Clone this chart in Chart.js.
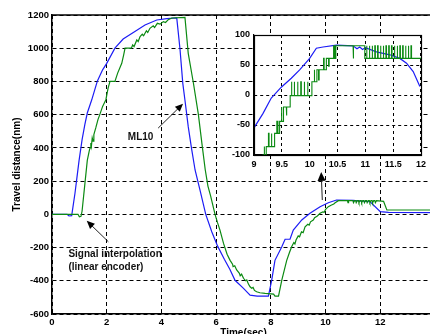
<!DOCTYPE html>
<html><head><meta charset="utf-8">
<script src="https://cdn.jsdelivr.net/npm/chart.js@4.4.1/dist/chart.umd.min.js"></script>
<style>
html,body{margin:0;padding:0;width:430px;height:334px;overflow:hidden;background:#fff;}
#wrap{position:relative;width:445px;height:348px;}
#main{position:absolute;left:0;top:0;width:445px;height:348px;}
#inset{position:absolute;left:215px;top:25px;width:215px;height:150px;}
</style></head><body>
<div id="wrap"><canvas id="main" width="445" height="348"></canvas><canvas id="inset" width="215" height="150"></canvas></div>
<script>
// ---------- data (time in s, travel distance in nm) ----------
const mainXTicks = [0, 2, 4, 6, 8, 10, 12, 14];
const mainYTicks = [-600, -400, -200, 0, 200, 400, 600, 800, 1000, 1200];
const insetXTicks = [9, 9.5, 10, 10.5, 11, 11.5, 12];
const insetYTicks = [-100, -50, 0, 50, 100];

const ml10Main = [[0,0],[0.55,0],[0.62,-10],[0.72,-8],[0.78,60],[0.84,127],[0.9,206],[0.99,325],[1.1,450],[1.2,540],[1.29,610],[1.45,688],[1.66,803],[1.85,870],[2.0,909],[2.3,1000],[2.6,1055],[3.03,1100],[3.4,1140],[3.83,1170],[4.2,1178],[4.56,1182],[4.68,992],[4.78,790],[4.86,687],[4.98,528],[5.1,397],[5.23,267],[5.41,146],[5.62,0],[5.84,-105],[6.05,-190],[6.3,-270],[6.5,-330],[6.69,-397],[7.0,-446],[7.24,-486],[7.5,-492],[7.91,-492],[8.03,-397],[8.15,-277],[8.4,-195],[8.52,-150],[8.7,-150],[8.82,-95],[9.13,-34],[9.43,6],[9.8,46],[10.1,70],[10.4,86],[11.0,84],[11.63,76],[12.0,16],[12.3,12],[14,10]];

const encoderMain = [[0,0],[0.95,0],[1.0,-15],[1.06,-12],[1.1,20],[1.2,180],[1.29,325],[1.36,380],[1.39,400],[1.42,430],[1.44,410],[1.47,460],[1.5,440],[1.53,480],[1.6,520],[1.68,570],[1.75,602],[1.85,650],[1.97,690],[2.05,760],[2.12,800],[2.3,800],[2.4,850],[2.55,909],[2.62,960],[2.67,1000],[2.9,1000],[2.95,1020],[3.0,1010],[3.1,1050],[3.15,1040],[3.22,1070],[3.3,1085],[3.35,1075],[3.45,1105],[3.5,1095],[3.58,1120],[3.7,1135],[3.75,1125],[3.85,1150],[3.95,1145],[4.07,1160],[4.15,1155],[4.25,1172],[4.38,1182],[4.86,1185],[4.98,969],[5.17,789],[5.35,602],[5.5,400],[5.6,270],[5.7,170],[5.8,110],[5.9,40],[5.96,0],[6.05,-50],[6.14,-95],[6.27,-175],[6.4,-240],[6.51,-277],[6.6,-300],[6.62,-315],[6.68,-310],[6.75,-335],[6.85,-355],[6.88,-370],[6.93,-360],[7.0,-385],[7.08,-400],[7.12,-395],[7.18,-420],[7.24,-436],[7.3,-445],[7.35,-440],[7.4,-458],[7.48,-466],[7.6,-472],[7.79,-476],[8.1,-480],[8.15,-492],[8.28,-492],[8.4,-396],[8.58,-277],[8.68,-230],[8.76,-195],[8.84,-170],[8.88,-178],[8.92,-155],[9.0,-130],[9.05,-135],[9.12,-105],[9.18,-110],[9.25,-75],[9.35,-60],[9.4,-65],[9.45,-45],[9.55,-34],[9.6,-20],[9.7,-10],[9.8,6],[9.9,15],[9.95,12],[10.0,30],[10.1,46],[10.2,55],[10.3,62],[10.35,70],[10.47,82],[10.8,82],[10.82,70],[10.84,82],[11.0,82],[11.02,70],[11.06,82],[11.1,82],[11.12,70],[11.16,82],[11.2,82],[11.22,70],[11.26,82],[11.3,82],[11.32,70],[11.36,82],[11.4,82],[11.42,70],[11.46,82],[11.5,82],[11.52,70],[11.56,82],[11.6,82],[11.62,70],[11.66,82],[11.7,82],[11.72,70],[11.76,82],[11.8,82],[11.82,70],[11.86,82],[12.12,78],[12.24,26],[14,26]];

const ml10Inset = [[9,-55],[9.16,-31],[9.31,-5],[9.49,13],[9.67,28],[9.82,42],[10.0,61],[10.12,78],[10.24,80],[10.48,83],[10.78,82],[10.85,77],[10.9,80],[10.95,76],[11.0,79],[11.2,72],[11.44,67],[11.62,61],[11.74,53],[11.86,39],[11.98,14]];

const encoderInset = [[9,-135],[9.16,-135],[9.16,-100],[9.18,-100],[9.18,-86],[9.19,-86],[9.19,-100],[9.22,-100],[9.22,-86],[9.26,-86],[9.26,-64],[9.27,-64],[9.27,-86],[9.31,-86],[9.31,-64],[9.32,-64],[9.32,-86],[9.37,-86],[9.37,-64],[9.41,-64],[9.41,-44],[9.43,-44],[9.43,-64],[9.46,-64],[9.46,-44],[9.49,-44],[9.49,-20],[9.5,-20],[9.5,-44],[9.53,-44],[9.53,-20],[9.58,-20],[9.58,-34],[9.59,-34],[9.59,-20],[9.65,-20],[9.65,-1],[9.67,-1],[9.67,22],[9.68,22],[9.68,-1],[9.72,-1],[9.72,22],[9.73,22],[9.73,-1],[9.78,-1],[9.78,22],[9.79,22],[9.79,-1],[9.84,-1],[9.84,22],[9.85,22],[9.85,-1],[9.9,-1],[9.9,22],[9.91,22],[9.91,-1],[9.96,-1],[9.96,22],[9.97,22],[9.97,-1],[10.04,-1],[10.04,22],[10.08,22],[10.08,42],[10.09,42],[10.09,22],[10.13,22],[10.13,42],[10.16,42],[10.16,25],[10.17,25],[10.17,42],[10.25,42],[10.25,61],[10.26,61],[10.26,42],[10.3,42],[10.3,61],[10.34,61],[10.34,48],[10.35,48],[10.35,61],[10.43,61],[10.43,82],[10.45,82],[10.45,61],[10.47,61],[10.47,82],[10.78,82],[10.78,61],[10.79,61],[10.79,82],[10.99,82],[10.99,61],
[11.02,61],[11.02,82],[11.03,82],[11.03,61],[11.07,61],[11.07,82],[11.08,82],[11.08,61],[11.12,61],[11.12,82],[11.13,82],[11.13,61],[11.17,61],[11.17,82],[11.18,82],[11.18,61],[11.22,61],[11.22,82],[11.23,82],[11.23,61],[11.27,61],[11.27,82],[11.28,82],[11.28,61],[11.32,61],[11.32,82],[11.33,82],[11.33,61],[11.37,61],[11.37,82],[11.38,82],[11.38,61],[11.42,61],[11.42,82],[11.43,82],[11.43,61],[11.47,61],[11.47,82],[11.48,82],[11.48,61],[11.52,61],[11.52,82],[11.53,82],[11.53,61],[11.57,61],[11.57,82],[11.58,82],[11.58,61],[11.62,61],[11.62,82],[11.63,82],[11.63,61],[11.67,61],[11.67,82],[11.68,82],[11.68,61],[11.72,61],[11.72,82],[11.73,82],[11.73,61],[11.77,61],[11.77,82],[11.78,82],[11.78,61],[11.82,61],[11.82,82],[11.83,82],[11.83,61],[12,61]];

const seriesNames = ['Signal interpolation (linear encoder)', 'ML10'];
const annotationLabels = ['ML10', 'Signal interpolation', '(linear encoder)'];

// ---------- styles ----------
const FONT = '"Liberation Sans", Arial, Helvetica, sans-serif';
const GREEN = '#0b8a12';
const BLUE = '#1c1cf5';
const toPts = arr => arr.map(p => ({x: p[0], y: p[1]}));
const fixTicks = list => s => { s.ticks = list.map(v => ({value: v})); };

function arrow(ctx, x1, y1, x2, y2, len, half) {
  const a = Math.atan2(y2 - y1, x2 - x1);
  ctx.beginPath(); ctx.moveTo(x1, y1); ctx.lineTo(x2 - Math.cos(a) * len * 0.6, y2 - Math.sin(a) * len * 0.6); ctx.stroke();
  ctx.beginPath();
  ctx.moveTo(x2, y2);
  ctx.lineTo(x2 - len * Math.cos(a) + half * Math.sin(a), y2 - len * Math.sin(a) - half * Math.cos(a));
  ctx.lineTo(x2 - len * Math.cos(a) - half * Math.sin(a), y2 - len * Math.sin(a) + half * Math.cos(a));
  ctx.closePath(); ctx.fill();
}

const mainDecor = {
  id: 'mainDecor',
  afterDraw(chart) {
    const {ctx, chartArea: a, scales: {x, y}} = chart;
    ctx.save();
    ctx.strokeStyle = '#000'; ctx.lineWidth = 1.5;
    ctx.beginPath(); ctx.moveTo(a.left, a.top); ctx.lineTo(a.right + 20, a.top); ctx.stroke();
    ctx.fillStyle = '#111'; ctx.strokeStyle = '#222'; ctx.lineWidth = 1;
    ctx.font = 'bold 10px ' + FONT; ctx.textBaseline = 'middle';
    ctx.textAlign = 'center';
    ctx.fillText(annotationLabels[0], x.getPixelForValue(3.24), y.getPixelForValue(462));
    ctx.textAlign = 'left';
    ctx.fillText(annotationLabels[1], x.getPixelForValue(0.6), y.getPixelForValue(-239));
    ctx.fillText(annotationLabels[2], x.getPixelForValue(0.6), y.getPixelForValue(-317));
    ctx.fillStyle = '#000';
    arrow(ctx, x.getPixelForValue(3.88), y.getPixelForValue(519), x.getPixelForValue(4.79), y.getPixelForValue(666), 8, 3.5);
    arrow(ctx, x.getPixelForValue(2.06), y.getPixelForValue(-165), x.getPixelForValue(1.27), y.getPixelForValue(-39), 8, 3.5);
    arrow(ctx, x.getPixelForValue(9.88), y.getPixelForValue(86), x.getPixelForValue(9.84), y.getPixelForValue(255), 9, 4);
    ctx.restore();
  }
};

const insetDecor = {
  id: 'insetDecor',
  beforeDraw(chart) {
    const {ctx, chartArea: a} = chart;
    ctx.save(); ctx.fillStyle = '#fff';
    ctx.fillRect(a.left, a.top, a.right - a.left, a.bottom - a.top);
    ctx.restore();
  },
  afterDraw(chart) {
    const {ctx, chartArea: a} = chart;
    ctx.save(); ctx.strokeStyle = '#000'; ctx.lineWidth = 1.2;
    ctx.strokeRect(Math.round(a.left) + 0.5, Math.round(a.top) + 0.5, Math.round(a.right - a.left), Math.round(a.bottom - a.top));
    ctx.restore();
  }
};

const tickFont = size => ({family: FONT, size: size, weight: 'bold'});

new Chart(document.getElementById('main'), {
  type: 'line',
  data: {datasets: [
    {label: seriesNames[0], data: toPts(encoderMain), borderColor: GREEN, borderWidth: 1.2, pointRadius: 0, tension: 0},
    {label: seriesNames[1], data: toPts(ml10Main), borderColor: BLUE, borderWidth: 1.2, pointRadius: 0, tension: 0}
  ]},
  options: {
    responsive: false, animation: false, events: [],
    layout: {padding: {top: 15, right: 10, left: 0, bottom: 0}},
    plugins: {legend: {display: false}, tooltip: {enabled: false}},
    scales: {
      x: {
        type: 'linear', min: 0, max: 14,
        afterBuildTicks: fixTicks(mainXTicks),
        afterFit: s => { s.height = 34; },
        grid: {color: '#000', lineWidth: 1, drawTicks: false},
        border: {display: true, color: '#000', width: 1.5, dash: [4, 3]},
        ticks: {font: tickFont(9.5), color: '#000', padding: 3, maxRotation: 0, autoSkip: false, callback: v => String(v)},
        title: {display: true, text: 'Time(sec)', color: '#000', font: {family: FONT, size: 10, weight: 'bold'}, padding: {top: 0, bottom: 9}}
      },
      y: {
        type: 'linear', min: -600, max: 1200,
        afterBuildTicks: fixTicks(mainYTicks),
        afterFit: s => { s.width = 52; },
        grid: {color: '#000', lineWidth: 1, drawTicks: false},
        border: {display: true, color: '#000', width: 1.5, dash: [4, 3]},
        ticks: {font: tickFont(9.5), color: '#000', padding: 3, autoSkip: false, callback: v => String(v)},
        title: {display: true, text: 'Travel distance(nm)', color: '#000', font: {family: FONT, size: 10, weight: 'bold'}, padding: {top: 11, bottom: 0}}
      }
    }
  },
  plugins: [mainDecor]
});

new Chart(document.getElementById('inset'), {
  type: 'line',
  data: {datasets: [
    {label: seriesNames[0], data: toPts(encoderInset), borderColor: GREEN, borderWidth: 1.1, pointRadius: 0, tension: 0},
    {label: seriesNames[1], data: toPts(ml10Inset), borderColor: BLUE, borderWidth: 1.2, pointRadius: 0, tension: 0}
  ]},
  options: {
    responsive: false, animation: false, events: [],
    layout: {padding: {top: 10, right: 9, left: 0, bottom: 0}},
    plugins: {legend: {display: false}, tooltip: {enabled: false}},
    scales: {
      x: {
        type: 'linear', min: 9, max: 12,
        afterBuildTicks: fixTicks(insetXTicks),
        afterFit: s => { s.height = 20; },
        grid: {color: '#000', lineWidth: 1, drawTicks: false},
        border: {display: true, color: '#000', width: 1.2, dash: [3, 3]},
        ticks: {font: tickFont(9), color: '#000', padding: 4, maxRotation: 0, autoSkip: false, callback: v => String(v)}
      },
      y: {
        type: 'linear', min: -100, max: 100,
        afterBuildTicks: fixTicks(insetYTicks),
        afterFit: s => { s.width = 39; },
        grid: {color: '#000', lineWidth: 1, drawTicks: false},
        border: {display: true, color: '#000', width: 1.2, dash: [3, 3]},
        ticks: {font: tickFont(9), color: '#000', padding: 4, autoSkip: false, callback: v => String(v)}
      }
    }
  },
  plugins: [insetDecor]
});
</script>
</body></html>
